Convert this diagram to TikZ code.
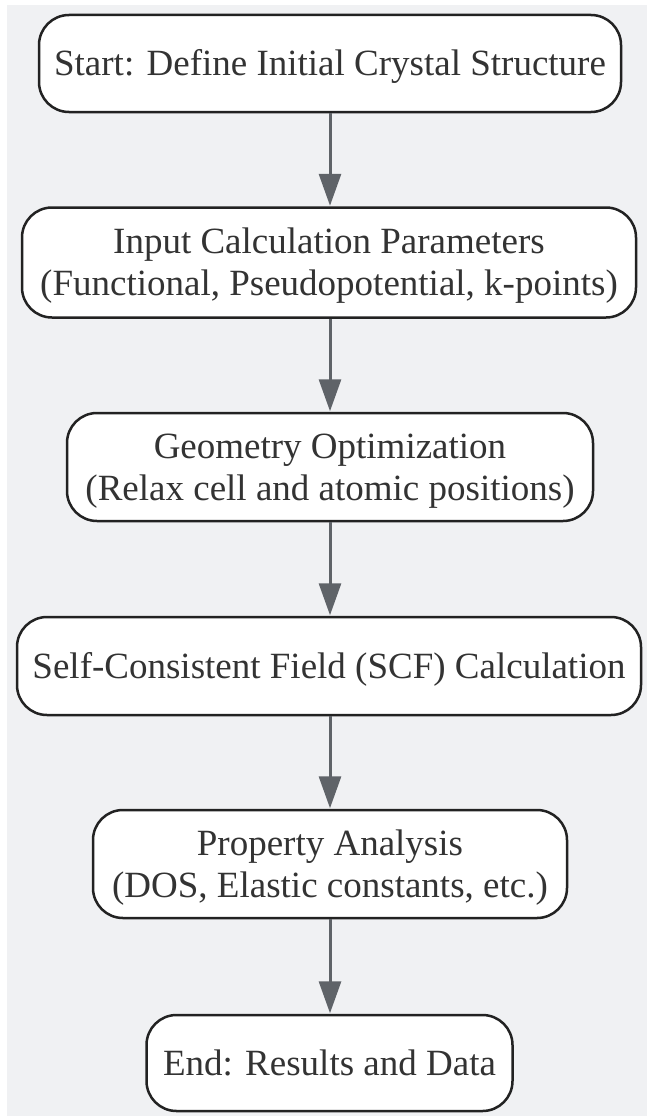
\documentclass[tikz,border=0pt]{standalone}
\usepackage{fontspec}
\setmainfont{Liberation Serif}
\usetikzlibrary{arrows.meta}
\definecolor{bggray}{HTML}{F0F1F3}
\definecolor{edgegray}{HTML}{5F6368}
\definecolor{boxline}{HTML}{222222}
\definecolor{txt}{HTML}{333333}
\newcommand\boxlbl[1]{\raisebox{-4pt}[\height][\depth]{\begin{tabular}{@{}c@{}}#1\end{tabular}}}
\begin{document}
\begin{tikzpicture}[x=1pt,y=-1pt,
  stepbox/.style={draw=boxline, line width=2.5pt, fill=white, rounded corners=30pt,
    inner sep=0pt, align=center, text=txt,
    font=\fontsize{37}{42}\selectfont},
  flow/.style={draw=edgegray, line width=3pt, -{Triangle[width=22pt,length=32pt]}, shorten >=0.5pt}
]
\useasboundingbox (0,0) rectangle (647,1116);
\fill[bggray] (7,5) rectangle (647,1116);
\node[stepbox, minimum width=582pt, minimum height=97pt] (n1) at (330,63.5) {\boxlbl{Start: Define Initial Crystal Structure}};
\node[stepbox, minimum width=614pt, minimum height=110pt] (n2) at (329,262.5) {\boxlbl{Input Calculation Parameters\\(Functional, Pseudopotential, k-points)}};
\node[stepbox, minimum width=526pt, minimum height=108pt] (n3) at (330,467) {\boxlbl{Geometry Optimization\\(Relax cell and atomic positions)}};
\node[stepbox, minimum width=624pt, minimum height=98pt] (n4) at (329,666) {\boxlbl{Self-Consistent Field (SCF) Calculation}};
\node[stepbox, minimum width=474pt, minimum height=108pt] (n5) at (330,864) {\boxlbl{Property Analysis\\(DOS, Elastic constants, etc.)}};
\node[stepbox, minimum width=366pt, minimum height=96pt] (n6) at (329.5,1063) {\boxlbl{End: Results and Data}};
\draw[flow] (n1.south -| 330,0) -- (n2.north -| 330,0);
\draw[flow] (n2.south -| 330,0) -- (n3.north -| 330,0);
\draw[flow] (n3.south -| 330,0) -- (n4.north -| 330,0);
\draw[flow] (n4.south -| 330,0) -- (n5.north -| 330,0);
\draw[flow] (n5.south -| 330,0) -- (n6.north -| 330,0);
\end{tikzpicture}
\end{document}
